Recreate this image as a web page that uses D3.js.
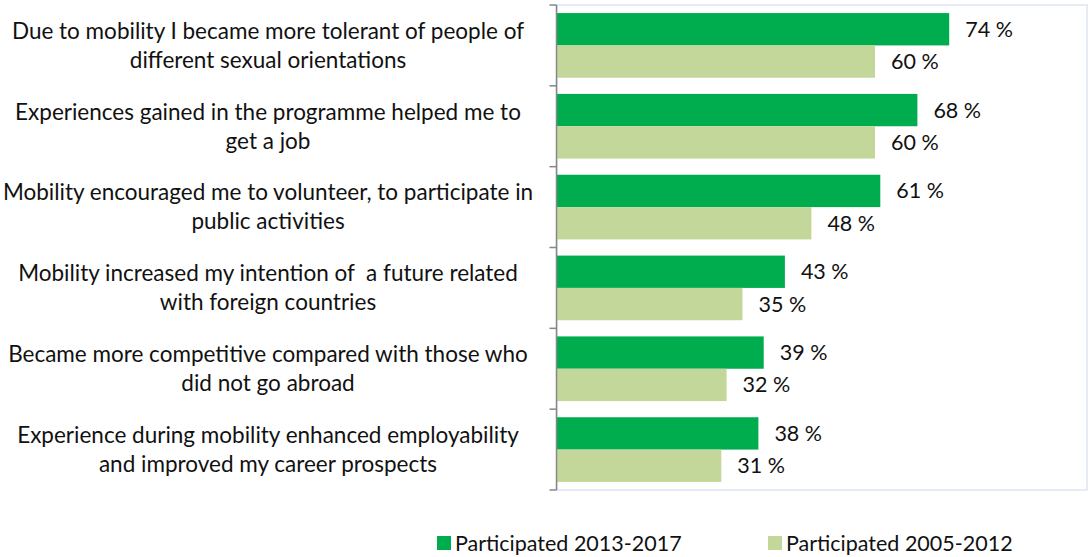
<!DOCTYPE html>
<html>
<head>
<meta charset="utf-8">
<script src="https://cdn.jsdelivr.net/npm/d3@7"></script>
<style>
  body { margin: 0; background: #fff; }
  svg text { font-family: Lato, "Open Sans", sans-serif; fill: #111; white-space: pre; }
</style>
</head>
<body>
<svg id="chart" width="1089" height="557"></svg>
<script>
// categories (each split in two display lines)
const categories = [
  ["Due to mobility I became more tolerant of people of", "different sexual orientations"],
  ["Experiences gained in the programme helped me to", "get a job"],
  ["Mobility encouraged me to volunteer, to participate in", "public activities"],
  ["Mobility increased my intention of  a future related", "with foreign countries"],
  ["Became more competitive compared with those who", "did not go abroad"],
  ["Experience during mobility enhanced employability", "and improved my career prospects"]
];
const seriesNames = ["Participated 2013-2017", "Participated 2005-2012"];
const recent = [74, 68, 61, 43, 39, 38];
const earlier = [60, 60, 48, 35, 32, 31];
const colors = ["#00ad4e", "#c4d79b"];

const margin = { top: 5, left: 557, right: 2, bottom: 67 };
const W = 1089, H = 557;
const svg = d3.select("#chart");

const x = d3.scaleLinear().domain([0, 100]).range([margin.left, W - margin.right]);
const y = d3.scaleBand()
  .domain(d3.range(categories.length))
  .range([margin.top, H - margin.bottom])
  .paddingInner(0.2)
  .paddingOuter(0.1);
const y0 = d3.scaleBand().domain([0, 1]).range([0, y.bandwidth()]);

// plot area border
svg.append("rect")
  .attr("x", margin.left).attr("y", margin.top)
  .attr("width", W - margin.right - margin.left)
  .attr("height", H - margin.bottom - margin.top)
  .attr("fill", "none").attr("stroke", "#dde6f2").attr("stroke-width", 1.5);

const rows = categories.map((c, i) => ({ i, vals: [recent[i], earlier[i]] }));

const g = svg.append("g");
rows.forEach(r => {
  r.vals.forEach((v, s) => {
    const yy = y(r.i) + y0(s);
    g.append("rect")
      .attr("x", x(0)).attr("y", yy)
      .attr("width", x(v) - x(0)).attr("height", y0.bandwidth())
      .attr("fill", colors[s]);
    g.append("text")
      .attr("x", x(v) + 16).attr("y", yy + y0.bandwidth() / 2)
      .attr("dy", "0.35em")
      .attr("font-size", 21.5)
      .text(v + " %");
  });
});

// category axis with ticks at band boundaries
const step = y.step();
const axisX = x(0) - 0.5;
svg.append("line")
  .attr("x1", axisX).attr("x2", axisX)
  .attr("y1", margin.top).attr("y2", H - margin.bottom)
  .attr("stroke", "#868686").attr("stroke-width", 1.5);
d3.range(categories.length + 1).forEach(k => {
  const ty = margin.top + k * step;
  svg.append("line")
    .attr("x1", axisX - 7).attr("x2", axisX)
    .attr("y1", ty).attr("y2", ty)
    .attr("stroke", "#868686").attr("stroke-width", 1.5);
});

categories.forEach((lines, i) => {
  const cy = y(i) + y.bandwidth() / 2;
  const t = svg.append("text")
    .attr("text-anchor", "middle")
    .attr("font-size", 22.5);
  lines.forEach((ln, j) => {
    t.append("tspan")
      .attr("x", 268)
      .attr("y", cy + (j - 0.5) * 29)
      .attr("dy", "0.35em")
      .text(ln);
  });
});

// legend
const legendX = [437, 768];
seriesNames.forEach((name, s) => {
  svg.append("rect")
    .attr("x", legendX[s]).attr("y", 536)
    .attr("width", 14).attr("height", 14)
    .attr("fill", colors[s]);
  svg.append("text")
    .attr("x", legendX[s] + 18).attr("y", 543)
    .attr("dy", "0.35em")
    .attr("font-size", 21.5)
    .text(name);
});
</script>
</body>
</html>
